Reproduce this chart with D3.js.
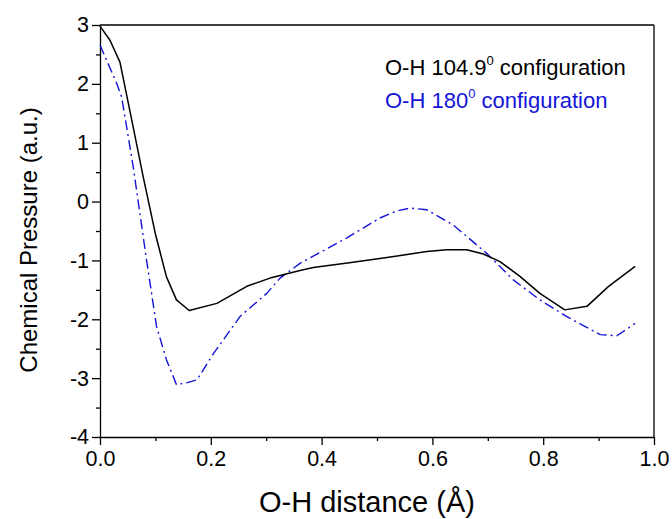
<!DOCTYPE html>
<html>
<head>
<meta charset="utf-8">
<script src="https://cdn.jsdelivr.net/npm/d3@7"></script>
<style>
  body { margin: 0; background: #fff; }
  svg { font-family: "Liberation Sans", Arial, sans-serif; }
  .axis path, .axis line { stroke: #000; stroke-width: 1.3; }
  .axis text { font-size: 21.5px; fill: #000; }
</style>
</head>
<body>
<script>
// O-H 104.9 deg configuration (black, solid)
var bentX = [0, 0.018, 0.036, 0.057, 0.078, 0.100, 0.120, 0.138, 0.161, 0.211, 0.265, 0.307, 0.361,
             0.385, 0.450, 0.518, 0.590, 0.626, 0.662, 0.692, 0.722, 0.758, 0.794, 0.839, 0.879, 0.918, 0.966];
var bentY = [2.98, 2.74, 2.37, 1.40, 0.42, -0.55, -1.28, -1.67, -1.85, -1.73, -1.44, -1.30, -1.17,
             -1.12, -1.04, -0.95, -0.85, -0.82, -0.82, -0.89, -1.02, -1.27, -1.56, -1.84, -1.78, -1.44, -1.10];
// O-H 180 deg configuration (blue, dash-dot)
var linX = [0, 0.030, 0.039, 0.060, 0.084, 0.102, 0.120, 0.138, 0.156, 0.175, 0.205, 0.253,
            0.301, 0.325, 0.361, 0.400, 0.445, 0.505, 0.535, 0.560, 0.590, 0.638, 0.698, 0.746,
            0.794, 0.842, 0.875, 0.903, 0.933, 0.966];
var linY = [2.66, 2.01, 1.78, 0.59, -0.99, -2.12, -2.69, -3.11, -3.08, -3.03, -2.58, -1.95,
            -1.56, -1.30, -1.05, -0.85, -0.62, -0.28, -0.16, -0.11, -0.14, -0.40, -0.88, -1.33,
            -1.67, -1.95, -2.12, -2.26, -2.28, -2.07];
var xTicks = [0, 0.2, 0.4, 0.6, 0.8, 1.0];
var yTicks = [-4, -3, -2, -1, 0, 1, 2, 3];

var margin = {top: 25, right: 18, bottom: 82, left: 100},
    width = 672 - margin.left - margin.right,
    height = 519 - margin.top - margin.bottom;

var svg = d3.select('body').append('svg')
    .attr('width', 672)
    .attr('height', 519);

var g = svg.append('g')
    .attr('transform', 'translate(' + margin.left + ',' + margin.top + ')');

var x = d3.scaleLinear().domain([0, 1]).range([0, width]);
var y = d3.scaleLinear().domain([-4, 3]).range([height, 0]);

// minor ticks first
g.append('g')
    .attr('class', 'axis')
    .attr('transform', 'translate(0,' + height + ')')
    .call(d3.axisBottom(x).tickValues(d3.range(0.1, 1, 0.2)).tickSize(4).tickFormat(''))
    .select('.domain').remove();
g.append('g')
    .attr('class', 'axis')
    .call(d3.axisLeft(y).tickValues(d3.range(-3.5, 3, 1)).tickSize(4).tickFormat(''))
    .select('.domain').remove();

g.append('g')
    .attr('class', 'axis')
    .attr('transform', 'translate(0,' + height + ')')
    .call(d3.axisBottom(x).tickValues(xTicks).tickSize(8).tickSizeOuter(0).tickPadding(6)
      .tickFormat(d3.format('.1f')));

g.append('g')
    .attr('class', 'axis')
    .call(d3.axisLeft(y).tickValues(yTicks).tickSize(8).tickSizeOuter(0).tickPadding(3)
      .tickFormat(function(d) { return String(d); }));

// frame top / right
g.append('line').attr('x1', 0).attr('x2', width).attr('y1', 0).attr('y2', 0)
    .attr('stroke', '#000').attr('stroke-width', 1.3);
g.append('line').attr('x1', width).attr('x2', width).attr('y1', 0).attr('y2', height)
    .attr('stroke', '#000').attr('stroke-width', 1.3);

var line = d3.line()
    .x(function(d) { return x(d[0]); })
    .y(function(d) { return y(d[1]); });

g.append('path')
    .datum(d3.zip(linX, linY))
    .attr('fill', 'none')
    .attr('stroke', '#1414d8')
    .attr('stroke-width', 1.4)
    .attr('stroke-linejoin', 'round')
    .attr('stroke-dasharray', '10,4,2,4')
    .attr('d', line);

g.append('path')
    .datum(d3.zip(bentX, bentY))
    .attr('fill', 'none')
    .attr('stroke', '#000')
    .attr('stroke-width', 1.5)
    .attr('stroke-linejoin', 'round')
    .attr('d', line);

// legend
var legend = g.append('g').attr('font-size', '22px');
var l1 = legend.append('text').attr('x', 285).attr('y', 50).attr('fill', '#000');
l1.append('tspan').text('O-H 104.9');
l1.append('tspan').attr('dy', -10).attr('font-size', '13px').text('0');
l1.append('tspan').attr('dy', 10).text(' configuration');
var l2 = legend.append('text').attr('x', 285).attr('y', 83).attr('fill', '#1414d8');
l2.append('tspan').text('O-H 180');
l2.append('tspan').attr('dy', -10).attr('font-size', '13px').text('0');
l2.append('tspan').attr('dy', 10).text(' configuration');

// axis titles
svg.append('text')
    .attr('transform', 'translate(37,' + (margin.top + 215) + ') rotate(-90)')
    .attr('text-anchor', 'middle')
    .attr('font-size', '24px')
    .text('Chemical Pressure (a.u.)');

svg.append('text')
    .attr('x', 367)
    .attr('y', 512)
    .attr('text-anchor', 'middle')
    .attr('font-size', '29px')
    .text('O-H distance (\u00c5)');
</script>
</body>
</html>
